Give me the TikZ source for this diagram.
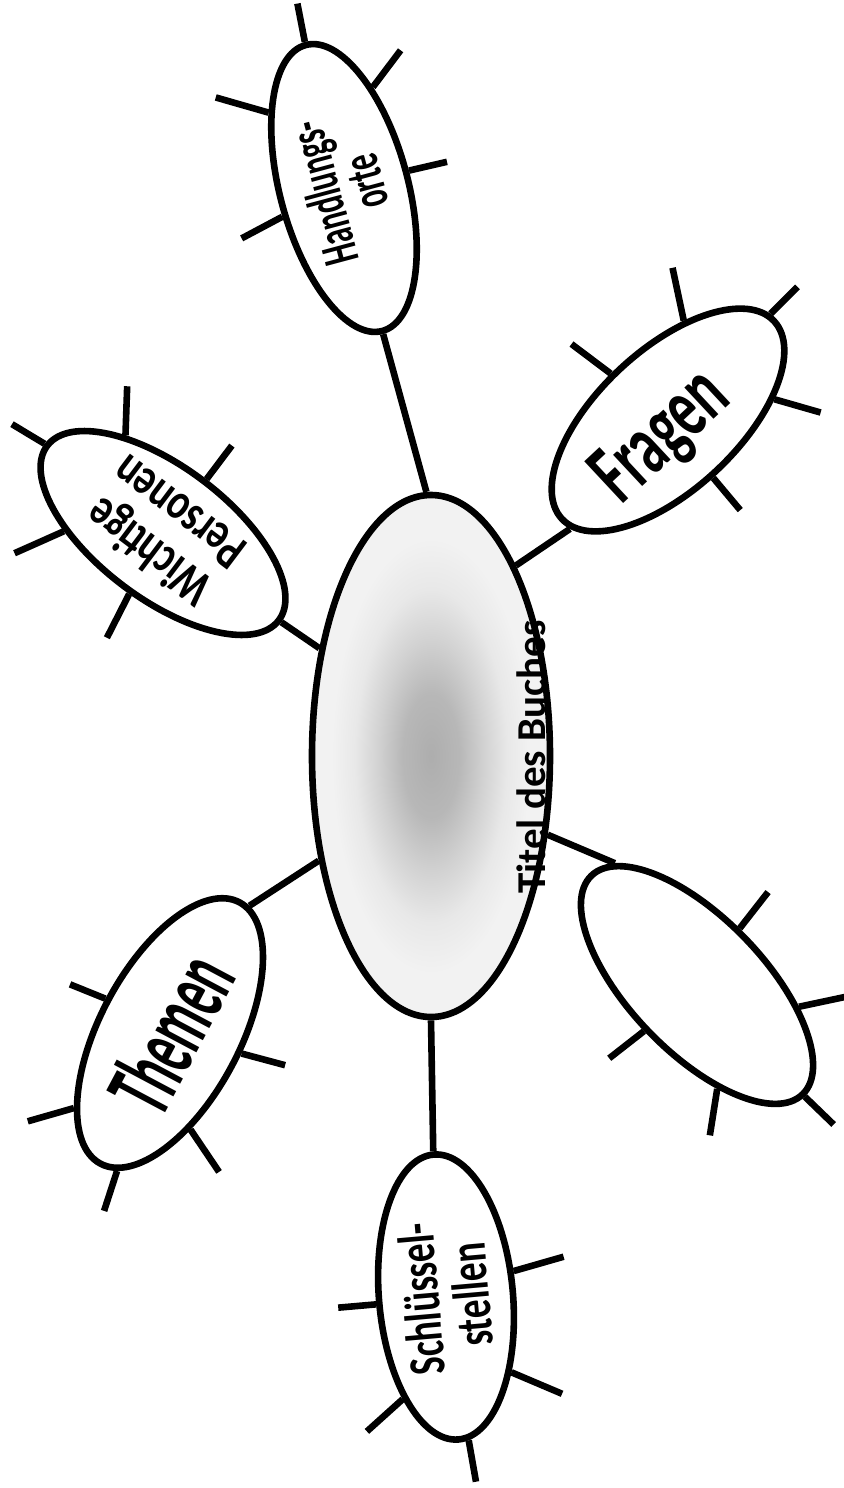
\documentclass[tikz,border=0pt]{standalone}
\usepackage{fontspec}
\setmainfont{Carlito}
\usepackage{graphicx}
\usetikzlibrary{shapes.geometric}

% Grauverlauf in der Mitte
\pgfdeclareradialshading{buchgrau}{\pgfpoint{0bp}{0bp}}{%
  color(0bp)=(black!32); color(6bp)=(black!28); color(11bp)=(black!18);
  color(16bp)=(black!9); color(21bp)=(black!5); color(50bp)=(black!5)}

% schmale Schrift
\newcommand\eng[2]{\scalebox{#1}[1]{#2}}

\begin{document}
\begin{tikzpicture}[
  x=0.5pt, y=0.5pt,
  bubble/.style={ellipse, draw, line width=3.3pt, fill=white, inner sep=0pt, align=center},
  link/.style={line width=3.3pt},
  strich/.style={line width=3.3pt},
  klein/.style={font=\bfseries\fontsize{26}{#1}\selectfont},
  gross/.style={font=\bfseries\fontsize{#1}{#1}\selectfont},
]

\fill[white] (0,0) rectangle (843,-1488);
\useasboundingbox (0,0) rectangle (843,-1488);

% ── Mitte: Titel des Buches ──────────────────────────────────────────
\node[ellipse, draw, line width=3.3pt, shade, shading=buchgrau, inner sep=0pt,
      minimum width=119pt, minimum height=261pt] (titel) at (431,-756) {};
\node[gross=20.5, rotate=90, anchor=base, inner sep=0pt] (titeltext) at (545,-757)
  {Titel des Buches};

% ── Äußere Ellipsen ──────────────────────────────────────────────────
\node[bubble, klein=22, rotate=105, minimum width=148pt, minimum height=64pt]
  (ho) at (344,-188) {\eng{0.6}{Handlungs-}\\\eng{0.6}{orte}};
\node[bubble, klein=25, rotate=143, minimum width=145pt, minimum height=66pt]
  (wp) at (163,-533) {\eng{0.75}{Wichtige}\\\eng{0.75}{Personen}};
\node[bubble, gross=44, rotate=43, minimum width=145pt, minimum height=70pt]
  (fr) at (668,-420)
  {\hspace*{-8pt}\raisebox{-5pt}[\height][\depth]{\eng{0.62}{Fragen}}\hspace*{8pt}};
\node[bubble, gross=48, rotate=62, minimum width=148pt, minimum height=70pt]
  (th) at (170,-1033) {\eng{0.5}{Themen}};
\node[bubble, rotate=-46, minimum width=152pt, minimum height=67pt]
  (bl) at (697,-985) {};
\node[bubble, klein=25, rotate=95, minimum width=143pt, minimum height=67pt]
  (ss) at (446,-1297) {\eng{0.72}{Schlüssel-}\\\eng{0.72}{stellen}};

% ── Verbindungen zur Mitte ───────────────────────────────────────────
\draw[link] (titel.91)  -- (ho.west);
\draw[link] (titel.136) -- (wp.west);
\draw[link] (titel.66)  -- (fr.185);
\draw[link] (titel.223) -- (th.-4);
\draw[link] (titel.-34) -- (bl.170);
\draw[link] (titel.270) -- (ss.east);

% ── Striche an den Ellipsen ──────────────────────────────────────────
\foreach \a/\d/\l in {0/101/39, -31/53/46, 30/164/55, -90/13/39, 100/208/46}
  \draw[strich] (ho.\a) -- ++(\d:\l);
\foreach \a/\d/\l in {0/149/38, -32/88/49, -92/53/42, 36/204/54, 98/243/49}
  \draw[strich] (wp.\a) -- ++(\d:\l);
\foreach \a/\d/\l in {98/143/49, 38/102/54, 3/45/38, -32/-16/48, -95/-50/42}
  \draw[strich] (fr.\a) -- ++(\d:\l);
\foreach \a/\d/\l in {90/158/38, 156/196/48, 187/252/42, 220/-56/51, -78/-15/45}
  \draw[strich] (th.\a) -- ++(\d:\l);
\foreach \a/\d/\l in {99/52/46, 34/12/53, 0/-44/40, -33/261/47, -93/218/44}
  \draw[strich] (bl.\a) -- ++(\d:\l);
\foreach \a/\d/\l in {-74/16/52, 91/185/38, 216/-23/55, 152/222/48, 184/-80/42}
  \draw[strich] (ss.\a) -- ++(\d:\l);

\end{tikzpicture}
\end{document}
